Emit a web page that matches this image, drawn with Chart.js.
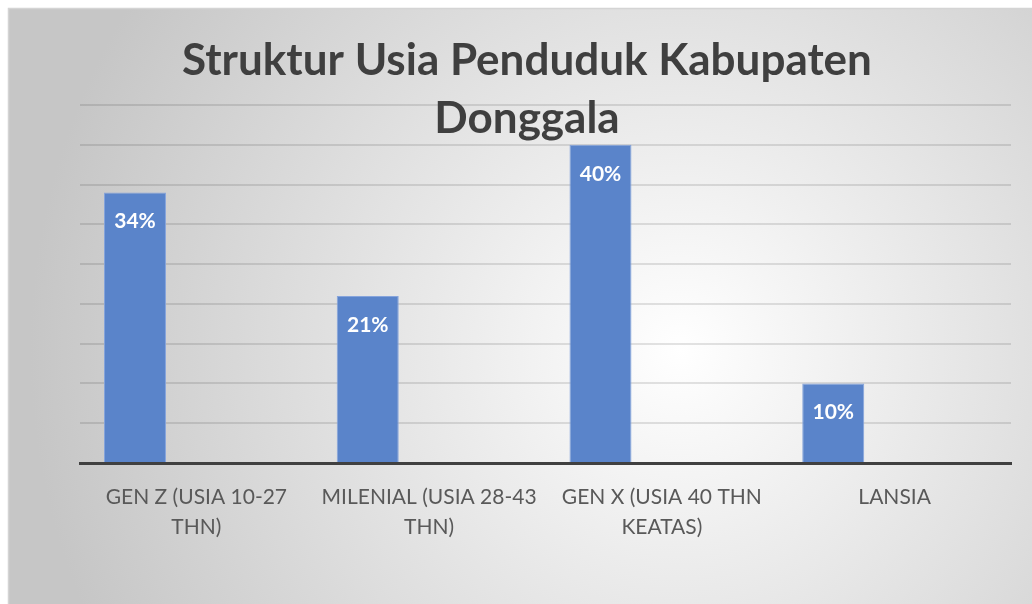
<!DOCTYPE html>
<html>
<head>
<meta charset="utf-8">
<script src="https://cdn.jsdelivr.net/npm/chart.js@4"></script>
<style>
  html, body { margin: 0; padding: 0; background: #fff; }
  #wrap { width: 1032px; height: 604px; }
</style>
</head>
<body>
<div id="wrap"><canvas id="chart"></canvas></div>
<script>
const titleLines = ['Struktur Usia Penduduk Kabupaten', 'Donggala'];
const categories = [
  ['GEN Z (USIA 10-27', 'THN)'],
  ['MILENIAL (USIA 28-43', 'THN)'],
  ['GEN X (USIA 40 THN', 'KEATAS)'],
  'LANSIA'
];
const percentages = [34, 21, 40, 10];
const emptySeries = [null, null, null, null];
const yTicks = { min: 0, max: 45, step: 5 };

// excel-like radial background + frame
const background = {
  id: 'background',
  beforeDraw(chart) {
    const ctx = chart.ctx;
    ctx.save();
    ctx.fillStyle = '#ffffff';
    ctx.fillRect(0, 0, chart.width, chart.height);
    const g = ctx.createRadialGradient(680, 350, 0, 680, 350, 650);
    g.addColorStop(0, '#ffffff');
    g.addColorStop(1, '#c6c6c6');
    ctx.fillStyle = g;
    ctx.fillRect(8, 8, chart.width - 8, chart.height - 8);
    ctx.strokeStyle = '#d4d4d4';
    ctx.lineWidth = 1.5;
    ctx.beginPath();
    ctx.moveTo(8.5, chart.height);
    ctx.lineTo(8.5, 8.5);
    ctx.lineTo(chart.width, 8.5);
    ctx.stroke();
    ctx.restore();
  }
};

// value labels inside the top of each bar
const barLabels = {
  id: 'barLabels',
  afterDatasetsDraw(chart) {
    const ctx = chart.ctx;
    const meta = chart.getDatasetMeta(0);
    ctx.save();
    ctx.fillStyle = '#ffffff';
    ctx.font = 'bold 21px Lato';
    ctx.textAlign = 'center';
    ctx.textBaseline = 'middle';
    meta.data.forEach((bar, i) => {
      ctx.fillText(percentages[i] + '%', bar.x, bar.y + 29);
    });
    ctx.restore();
  }
};

new Chart(document.getElementById('chart'), {
  type: 'bar',
  data: {
    labels: categories,
    datasets: [{
      data: percentages,
      backgroundColor: '#5a84ca',
      borderColor: '#86a4dc',
      borderWidth: 1,
      categoryPercentage: 1.055,
      barPercentage: 0.505
    }, {
      data: emptySeries,
      backgroundColor: '#ed7d31',
      categoryPercentage: 1.055,
      barPercentage: 0.505
    }]
  },
  options: {
    responsive: true,
    maintainAspectRatio: false,
    animation: false,
    layout: { padding: { left: 43, right: 21, top: 8, bottom: 51 } },
    plugins: {
      legend: { display: false },
      tooltip: { enabled: false },
      title: {
        display: true,
        text: titleLines,
        color: '#3f3f3f',
        font: { family: 'Lato', size: 44, weight: 'bold', lineHeight: '58px' },
        padding: { top: 24, bottom: -43 }
      }
    },
    scales: {
      x: {
        grid: { display: false },
        border: { display: true, color: '#404040', width: 3 },
        ticks: {
          color: '#595959',
          font: { family: 'Lato', size: 21, lineHeight: '30px' },
          padding: 11,
          maxRotation: 0
        }
      },
      y: {
        min: yTicks.min,
        max: yTicks.max,
        afterFit(scale) { scale.width = 37; },
        border: { display: false },
        grid: {
          drawTicks: false,
          lineWidth: 2,
          color: ctx => ctx.tick && ctx.tick.value === 0 ? 'rgba(0,0,0,0)' : 'rgba(0,0,0,0.11)'
        },
        ticks: { display: false, stepSize: yTicks.step }
      }
    }
  },
  plugins: [background, barLabels]
});
</script>
</body>
</html>
